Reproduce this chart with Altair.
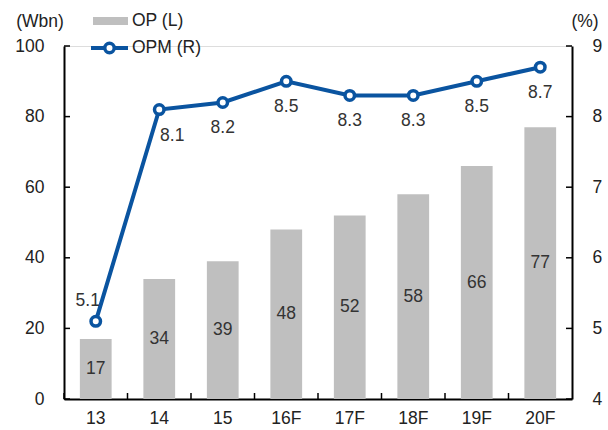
import altair as alt
import pandas as pd

categories = ["13", "14", "15", "16F", "17F", "18F", "19F", "20F"]
op = [17, 34, 39, 48, 52, 58, 66, 77]
opm = [5.1, 8.1, 8.2, 8.5, 8.3, 8.3, 8.5, 8.7]
left_ticks = [0, 20, 40, 60, 80, 100]
right_ticks = [4, 5, 6, 7, 8, 9]
legend_labels = ["OP (L)", "OPM (R)"]
left_unit = "(Wbn)"
right_unit = "(%)"

df = pd.DataFrame({
    "cat": categories,
    "op": op,
    "opm": opm,
    "op_label": [str(v) for v in op],
    "opm_label": [f"{v:.1f}" for v in opm],
})

FONT = "Liberation Sans"
FS = 17.5
W, H = 508, 353
BLUE = "#0a54a0"
GRAY = "#bfbfbf"
TXT = "#222222"

yl = alt.Scale(domain=[0, 100], nice=False, zero=True)
yr = alt.Scale(domain=[4, 9], nice=False, zero=False)

xaxis = alt.Axis(title=None, labelAngle=0, ticks=False, grid=False,
                 domainColor="black", domainWidth=2, labelPadding=10,
                 labelFontSize=FS, labelFont=FONT, labelColor=TXT)
laxis = alt.Axis(title=None, values=left_ticks, ticks=False, grid=False,
                 domainColor="black", domainWidth=2, labelPadding=20,
                 labelFontSize=FS, labelFont=FONT, labelColor=TXT)
raxis = alt.Axis(orient="right", title=None, values=right_ticks, ticks=False,
                 grid=False, domainColor="black", domainWidth=2, labelPadding=20,
                 labelFontSize=FS, labelFont=FONT, labelColor=TXT)
xsc = alt.Scale(paddingInner=0, paddingOuter=0)


def X(**kw):
    return alt.X("cat:N", sort=categories, scale=xsc, axis=xaxis, **kw)


base = alt.Chart(df)

bars = base.mark_bar(color=GRAY, width=alt.RelativeBandSize(0.5)).encode(
    x=X(),
    y=alt.Y("op:Q", scale=yl, axis=laxis),
)
bar_text = base.transform_calculate(mid="datum.op / 2").mark_text(
    font=FONT, fontSize=FS, color="#333333", baseline="middle"
).encode(
    x=X(),
    y=alt.Y("mid:Q", scale=yl, axis=laxis),
    text="op_label:N",
)
left_tick_marks = alt.Chart(pd.DataFrame({"v": left_ticks})).mark_rule(
    color="black", strokeWidth=1.5
).encode(
    y=alt.Y("v:Q", scale=yl, axis=laxis),
    x=alt.value(0), x2=alt.value(6),
)
x_tick_marks = base.mark_rule(color="black", strokeWidth=1.5).encode(
    x=X(bandPosition=0),
    y=alt.value(H), y2=alt.value(H - 6),
)

left = alt.layer(bars, bar_text, left_tick_marks, x_tick_marks)

line = base.mark_line(color=BLUE, strokeWidth=4).encode(
    x=X(),
    y=alt.Y("opm:Q", scale=yr, axis=raxis),
)
pts = base.mark_point(shape="circle", filled=True, fill="white", stroke=BLUE,
                      strokeWidth=3.5, size=90, opacity=1).encode(
    x=X(),
    y=alt.Y("opm:Q", scale=yr, axis=raxis),
)


def line_label(filt, dx, dy):
    return base.transform_filter(filt).mark_text(
        font=FONT, fontSize=FS, color="#333333", baseline="middle", dx=dx, dy=dy
    ).encode(
        x=X(),
        y=alt.Y("opm:Q", scale=yr, axis=raxis),
        text="opm_label:N",
    )


c0, c1 = categories[0], categories[1]
lbl_rest = line_label(f"datum.cat != '{c0}' && datum.cat != '{c1}'", 0, 26)
lbl_first = line_label(f"datum.cat == '{c0}'", -8, -20)
lbl_second = line_label(f"datum.cat == '{c1}'", 13, 26)

right_tick_marks = alt.Chart(pd.DataFrame({"v": right_ticks})).mark_rule(
    color="black", strokeWidth=1.5
).encode(
    y=alt.Y("v:Q", scale=yr, axis=raxis),
    x=alt.value(W - 6), x2=alt.value(W),
)

right = alt.layer(line, pts, lbl_rest, lbl_first, lbl_second, right_tick_marks)

# legend and unit labels
leg_df = pd.DataFrame({"label": legend_labels})
leg_rect = alt.Chart(leg_df.iloc[[0]]).mark_rect(color=GRAY).encode(
    x=alt.value(29), x2=alt.value(64), y=alt.value(-29), y2=alt.value(-21))
leg_line = alt.Chart(leg_df.iloc[[1]]).mark_rule(color=BLUE, strokeWidth=4).encode(
    x=alt.value(27), x2=alt.value(64), y=alt.value(2))
leg_pt = alt.Chart(leg_df.iloc[[1]]).mark_point(
    shape="circle", filled=True, fill="white", stroke=BLUE, strokeWidth=3.5,
    size=90, opacity=1).encode(x=alt.value(45.5), y=alt.value(2))
leg_t1 = alt.Chart(leg_df.iloc[[0]]).mark_text(
    font=FONT, fontSize=FS, color=TXT, align="left", baseline="middle").encode(
    x=alt.value(68), y=alt.value(-25), text="label:N")
leg_t2 = alt.Chart(leg_df.iloc[[1]]).mark_text(
    font=FONT, fontSize=FS, color=TXT, align="left", baseline="middle").encode(
    x=alt.value(68), y=alt.value(2), text="label:N")
unit_l = alt.Chart(pd.DataFrame({"t": [left_unit]})).mark_text(
    font=FONT, fontSize=FS, color=TXT, baseline="middle").encode(
    x=alt.value(-24), y=alt.value(-24), text="t:N")
unit_r = alt.Chart(pd.DataFrame({"t": [right_unit]})).mark_text(
    font=FONT, fontSize=FS, color=TXT, baseline="middle").encode(
    x=alt.value(521), y=alt.value(-24), text="t:N")

chart = alt.layer(
    left, right, leg_rect, leg_line, leg_pt, leg_t1, leg_t2, unit_l, unit_r
).resolve_scale(y="independent").properties(
    width=W, height=H,
    autosize=alt.AutoSizeParams(type="none"),
    padding={"left": 64, "top": 46, "right": 36, "bottom": 31},
).configure_view(stroke=None).configure(background="white")

chart.save("out.html", embed_options={"renderer": "svg", "actions": False})
